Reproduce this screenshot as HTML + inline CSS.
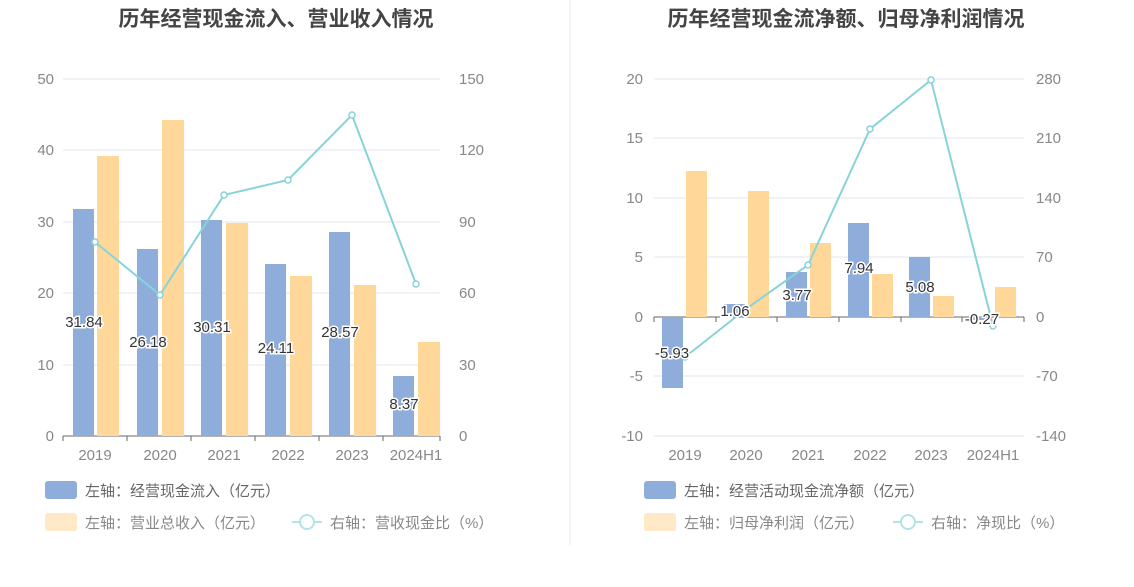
<!DOCTYPE html>
<html><head><meta charset="utf-8"><style>
body{margin:0;background:#fff;}
svg text{font-family:"Liberation Sans","Noto Sans CJK SC",sans-serif;}
</style></head><body>
<svg width="1134" height="582" xmlns="http://www.w3.org/2000/svg">
<line x1="570" y1="0" x2="570" y2="545" stroke="#e8e8e8"/>
<text x="276" y="26" font-size="21" font-weight="bold" fill="#444" text-anchor="middle">历年经营现金流入、营业收入情况</text>
<text x="846" y="26" font-size="21" font-weight="bold" fill="#444" text-anchor="middle">历年经营现金流净额、归母净利润情况</text>
<!-- LEFT -->
<g stroke="#e3e6ef">
<line x1="63" y1="79" x2="440" y2="79"/><line x1="63" y1="150" x2="440" y2="150"/><line x1="63" y1="222" x2="440" y2="222"/><line x1="63" y1="293" x2="440" y2="293"/><line x1="63" y1="365" x2="440" y2="365"/>
</g>
<line x1="63" y1="436" x2="440" y2="436" stroke="#666"/>
<g stroke="#666"><line x1="63" y1="436" x2="63" y2="441"/><line x1="127" y1="436" x2="127" y2="441"/><line x1="191" y1="436" x2="191" y2="441"/><line x1="255" y1="436" x2="255" y2="441"/><line x1="319" y1="436" x2="319" y2="441"/><line x1="383" y1="436" x2="383" y2="441"/><line x1="440" y1="436" x2="440" y2="441"/></g>
<g font-size="15" fill="#888" text-anchor="end">
<text x="54" y="84">50</text><text x="54" y="155">40</text><text x="54" y="227">30</text><text x="54" y="298">20</text><text x="54" y="370">10</text><text x="54" y="441">0</text></g>
<g font-size="15" fill="#888" text-anchor="start">
<text x="459" y="84">150</text><text x="459" y="155">120</text><text x="459" y="227">90</text><text x="459" y="298">60</text><text x="459" y="370">30</text><text x="459" y="441">0</text></g>
<g font-size="15" fill="#888" text-anchor="middle">
<text x="95" y="460">2019</text><text x="160" y="460">2020</text><text x="224" y="460">2021</text><text x="288" y="460">2022</text><text x="352" y="460">2023</text><text x="416" y="460">2024H1</text></g>
<g fill="#8eaddb">
<rect x="73" y="209" width="21" height="227"/><rect x="137" y="249" width="21" height="187"/><rect x="201" y="220" width="21" height="216"/><rect x="265" y="264" width="21" height="172"/><rect x="329" y="232" width="21" height="204"/><rect x="393" y="376" width="21" height="60"/></g>
<g fill="#ffd899">
<rect x="97" y="156" width="22" height="280"/><rect x="162" y="120" width="22" height="316"/><rect x="226" y="223" width="22" height="213"/><rect x="290" y="276" width="22" height="160"/><rect x="354" y="285" width="22" height="151"/><rect x="418" y="342" width="22" height="94"/></g>
<polyline points="95,242 160,295 224,195 288,180 352,115 416,284" fill="none" stroke="#86d4d8" stroke-width="2"/>
<g fill="#fff" stroke="#86d4d8" stroke-width="1.5"><circle cx="95" cy="242" r="3"/><circle cx="160" cy="295" r="3"/><circle cx="224" cy="195" r="3"/><circle cx="288" cy="180" r="3"/><circle cx="352" cy="115" r="3"/><circle cx="416" cy="284" r="3"/></g>
<g font-size="15" fill="#333" text-anchor="middle" stroke="#fff" stroke-width="3" paint-order="stroke">
<text x="84" y="327">31.84</text><text x="148" y="347">26.18</text><text x="212" y="332">30.31</text><text x="276" y="353">24.11</text><text x="340" y="337">28.57</text><text x="404" y="409">8.37</text></g>
<rect x="45" y="481" width="32" height="18" rx="3" fill="#8eaddb"/>
<text x="85" y="496" font-size="15" fill="#666">左轴：经营现金流入（亿元）</text>
<rect x="45" y="513" width="32" height="18" rx="3" fill="#ffe9c6"/>
<text x="85" y="528" font-size="15" fill="#888">左轴：营业总收入（亿元）</text>
<line x1="292" y1="522" x2="322" y2="522" stroke="#b3e3e6" stroke-width="2"/><circle cx="307" cy="522" r="7" fill="#fff" stroke="#b3e3e6" stroke-width="2"/>
<text x="330" y="528" font-size="15" fill="#888">右轴：营收现金比（%）</text>
<!-- RIGHT -->
<g stroke="#e3e6ef">
<line x1="654" y1="79" x2="1024" y2="79"/><line x1="654" y1="138" x2="1024" y2="138"/><line x1="654" y1="198" x2="1024" y2="198"/><line x1="654" y1="257" x2="1024" y2="257"/><line x1="654" y1="376" x2="1024" y2="376"/><line x1="654" y1="436" x2="1024" y2="436"/>
</g>
<line x1="654" y1="317" x2="1024" y2="317" stroke="#666"/>
<g stroke="#666"><line x1="654" y1="317" x2="654" y2="322"/><line x1="716" y1="317" x2="716" y2="322"/><line x1="777" y1="317" x2="777" y2="322"/><line x1="839" y1="317" x2="839" y2="322"/><line x1="901" y1="317" x2="901" y2="322"/><line x1="962" y1="317" x2="962" y2="322"/><line x1="1024" y1="317" x2="1024" y2="322"/></g>
<g font-size="15" fill="#888" text-anchor="end">
<text x="643" y="84">20</text><text x="643" y="143">15</text><text x="643" y="203">10</text><text x="643" y="262">5</text><text x="643" y="322">0</text><text x="643" y="381">-5</text><text x="643" y="441">-10</text></g>
<g font-size="15" fill="#888" text-anchor="start">
<text x="1036" y="84">280</text><text x="1036" y="143">210</text><text x="1036" y="203">140</text><text x="1036" y="262">70</text><text x="1036" y="322">0</text><text x="1036" y="381">-70</text><text x="1036" y="441">-140</text></g>
<g font-size="15" fill="#888" text-anchor="middle">
<text x="685" y="460">2019</text><text x="746" y="460">2020</text><text x="808" y="460">2021</text><text x="870" y="460">2022</text><text x="931" y="460">2023</text><text x="993" y="460">2024H1</text></g>
<g fill="#8eaddb">
<rect x="662" y="317" width="21" height="71"/><rect x="724" y="304" width="21" height="13"/><rect x="786" y="272" width="21" height="45"/><rect x="848" y="223" width="21" height="94"/><rect x="909" y="257" width="21" height="60"/><rect x="971" y="317" width="21" height="3"/></g>
<g fill="#ffd899">
<rect x="686" y="171" width="21" height="146"/><rect x="748" y="191" width="21" height="126"/><rect x="810" y="243" width="21" height="74"/><rect x="872" y="274" width="21" height="43"/><rect x="933" y="296" width="21" height="21"/><rect x="995" y="287" width="21" height="30"/></g>
<polyline points="685,357 746,309 808,265 870,129 931,80 993,326" fill="none" stroke="#86d4d8" stroke-width="2"/>
<g fill="#fff" stroke="#86d4d8" stroke-width="1.5"><circle cx="685" cy="357" r="3"/><circle cx="746" cy="309" r="3"/><circle cx="808" cy="265" r="3"/><circle cx="870" cy="129" r="3"/><circle cx="931" cy="80" r="3"/><circle cx="993" cy="326" r="3"/></g>
<g font-size="15" fill="#333" text-anchor="middle" stroke="#fff" stroke-width="3" paint-order="stroke">
<text x="672" y="358">-5.93</text><text x="735" y="316">1.06</text><text x="797" y="300">3.77</text><text x="859" y="273">7.94</text><text x="920" y="292">5.08</text><text x="982" y="324">-0.27</text></g>
<rect x="644" y="481" width="32" height="18" rx="3" fill="#8eaddb"/>
<text x="684" y="496" font-size="15" fill="#666">左轴：经营活动现金流净额（亿元）</text>
<rect x="644" y="513" width="32" height="18" rx="3" fill="#ffe9c6"/>
<text x="684" y="528" font-size="15" fill="#888">左轴：归母净利润（亿元）</text>
<line x1="893" y1="522" x2="923" y2="522" stroke="#b3e3e6" stroke-width="2"/><circle cx="908" cy="522" r="7" fill="#fff" stroke="#b3e3e6" stroke-width="2"/>
<text x="931" y="528" font-size="15" fill="#888">右轴：净现比（%）</text>
</svg>
</body></html>
